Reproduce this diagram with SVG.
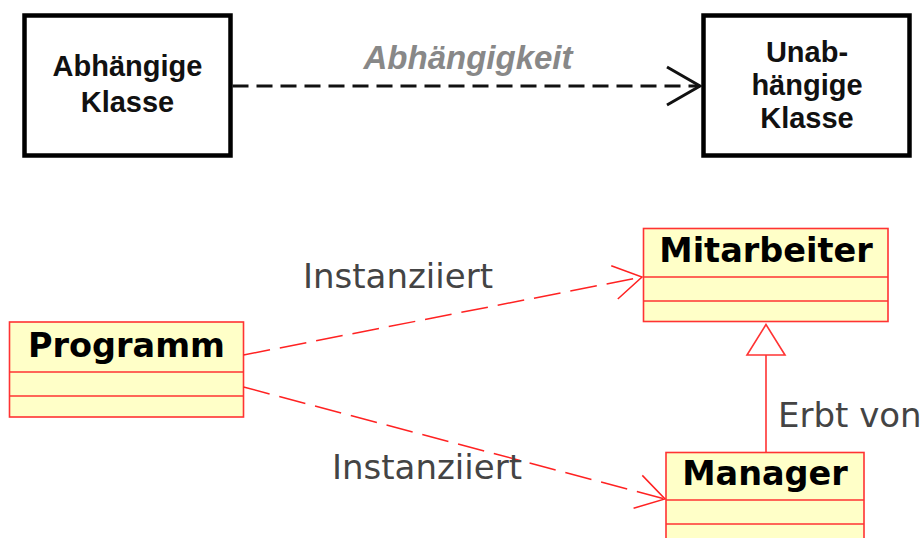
<svg xmlns="http://www.w3.org/2000/svg" width="921" height="538" viewBox="0 0 921 538">
  <style>
    .box { fill: #ffffff; stroke: #000000; stroke-width: 4.5; }
    .boxtext { font-family: "Liberation Sans", Arial, sans-serif; font-weight: bold; font-size: 29px; fill: #111111; text-anchor: middle; }
    .deplabel { font-family: "Liberation Sans", Arial, sans-serif; font-weight: bold; font-style: italic; font-size: 33px; fill: #888888; text-anchor: middle; }
    .cls { fill: #ffffc8; stroke: #ff3333; stroke-width: 1.6; }
    .sep { stroke: #ff3333; stroke-width: 1.6; }
    .clsname { font-family: "DejaVu Sans", Verdana, sans-serif; font-weight: bold; font-size: 33.5px; fill: #000000; text-anchor: middle; }
    .rel { font-family: "DejaVu Sans", Verdana, sans-serif; font-size: 34px; fill: #444444; }
    .dep-black { fill: none; stroke: #111111; stroke-width: 3; stroke-dasharray: 16 8; }
    .dep-red { fill: none; stroke: #ff2222; stroke-width: 1.5; stroke-dasharray: 27 10; }
    .gen { fill: none; stroke: #ff3333; stroke-width: 1.6; }
  </style>
  <defs>
    <marker id="openBlack" markerUnits="userSpaceOnUse" viewBox="-40 -25 45 50" markerWidth="45" markerHeight="50" refX="0" refY="0" orient="auto" overflow="visible">
      <path d="M -33,-19 L 0,0 L -33,19" fill="none" stroke="#111111" stroke-width="3" stroke-dasharray="none"/>
    </marker>
    <marker id="openRed" markerUnits="userSpaceOnUse" viewBox="-35 -22 40 44" markerWidth="40" markerHeight="44" refX="0" refY="0" orient="auto" overflow="visible">
      <path d="M -28,-17 L 0,0 L -28,17" fill="none" stroke="#ff2222" stroke-width="1.5" stroke-dasharray="none"/>
    </marker>
  </defs>

  <!-- top: plain dependency between two classes -->
  <g id="abhaengige-klasse">
    <rect class="box" x="24.5" y="15.5" width="206" height="140"/>
    <text class="boxtext" x="127.5" y="76">Abhängige</text>
    <text class="boxtext" x="127.5" y="112">Klasse</text>
  </g>
  <g id="unabhaengige-klasse">
    <rect class="box" x="703.5" y="15.5" width="206" height="140"/>
    <text class="boxtext" x="807" y="62">Unab-</text>
    <text class="boxtext" x="807" y="95">hängige</text>
    <text class="boxtext" x="807" y="128">Klasse</text>
  </g>

  <!-- bottom: UML classes -->
  <g id="programm">
    <rect class="cls" x="9.5" y="322" width="234" height="95"/>
    <line class="sep" x1="9.5" y1="372" x2="243.5" y2="372"/>
    <line class="sep" x1="9.5" y1="396" x2="243.5" y2="396"/>
    <text class="clsname" x="126.5" y="357">Programm</text>
  </g>
  <g id="mitarbeiter">
    <rect class="cls" x="643.5" y="228.5" width="244.5" height="93"/>
    <line class="sep" x1="643.5" y1="277" x2="888" y2="277"/>
    <line class="sep" x1="643.5" y1="301" x2="888" y2="301"/>
    <text class="clsname" x="766" y="262">Mitarbeiter</text>
  </g>
  <g id="manager">
    <rect class="cls" x="666" y="452.5" width="198" height="100"/>
    <line class="sep" x1="666" y1="500" x2="864" y2="500"/>
    <line class="sep" x1="666" y1="524" x2="864" y2="524"/>
    <text class="clsname" x="765" y="485">Manager</text>
  </g>

  <g id="connectors">
    <path class="dep-black" d="M 232.5,86 L 700,86" marker-end="url(#openBlack)"/>
    <text class="deplabel" x="468" y="69">Abhängigkeit</text>

    <path class="dep-red" d="M 243.5,355 L 642,277" marker-end="url(#openRed)"/>
    <text class="rel" x="303" y="288">Instanziiert</text>

    <path class="dep-red" d="M 243.5,387 L 665,499" marker-end="url(#openRed)"/>
    <text class="rel" x="332" y="479">Instanziiert</text>

    <line class="gen" x1="766" y1="355" x2="766" y2="452.5"/>
    <polygon class="gen" points="766,324.5 747,355 785,355" style="fill:#ffffff"/>
    <text class="rel" x="778" y="427">Erbt von</text>
  </g>
</svg>
